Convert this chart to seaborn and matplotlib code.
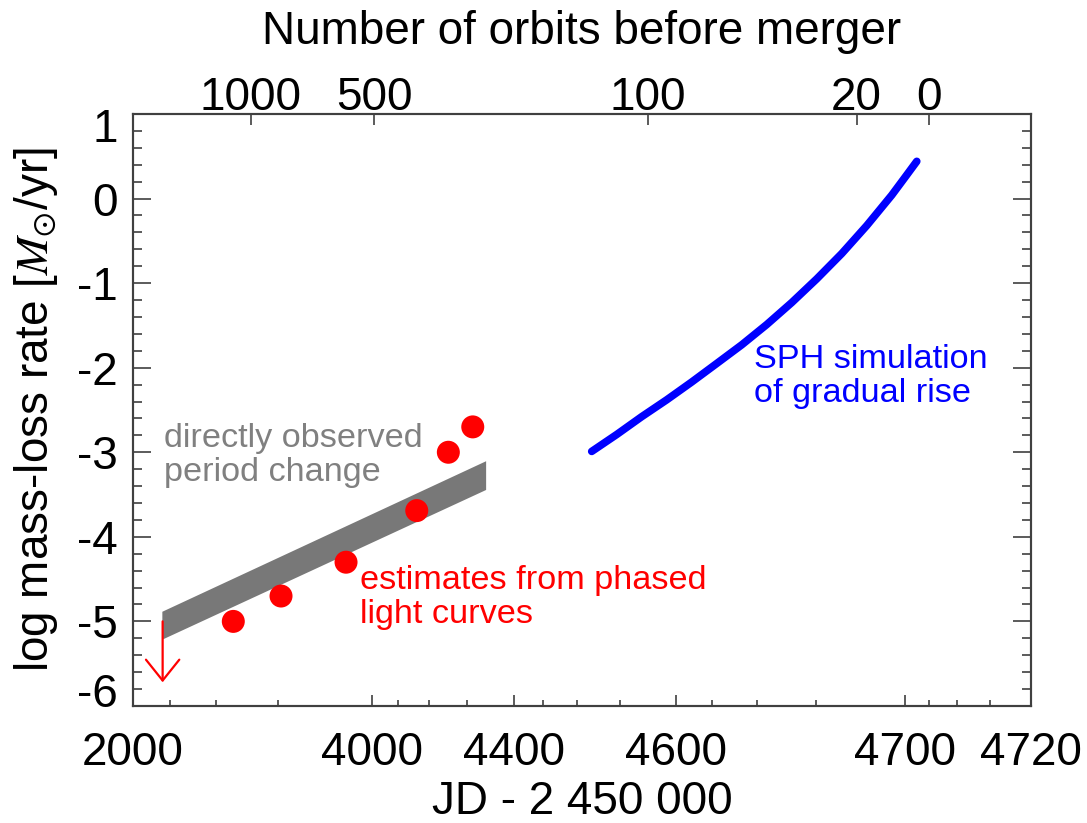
import numpy as np
import matplotlib
matplotlib.use("Agg")
import matplotlib.pyplot as plt
import seaborn as sns
from matplotlib.ticker import FixedLocator, NullFormatter, NullLocator, MultipleLocator
from matplotlib.transforms import ScaledTranslation

# bottom axis ticks (JD - 2450000)
jd_major = [2000, 4000, 4400, 4600, 4700, 4720]
jd_minor = [2500, 3000, 3500, 4100, 4200, 4300, 4450, 4500, 4550,
            4625, 4650, 4675, 4705, 4710, 4715]

# top axis: number of orbits before merger
orbit_labels = ["1000", "500", "100", "20", "0"]
orbit_jd = [3301, 4008, 4577, 4688, 4705]

# estimates from phased light curves
lc_jd = [3158, 3522, 3887, 4161, 4253, 4314]
lc_rate = [-5.00, -4.70, -4.30, -3.69, -3.00, -2.70]

# directly observed period change (band)
band_jd = [2400, 4343]
band_lo = [-5.21, -3.44]
band_hi = [-4.88, -3.10]

# upper limit arrow
limit_jd = 2410
limit_rate = [-5.0, -5.72]

# SPH simulation of gradual rise
sph_jd = [4518.0, 4546.4, 4571.1, 4592.8, 4611.6, 4628.1, 4642.4, 4654.9,
          4665.8, 4675.3, 4683.6, 4690.8, 4697.1, 4700.5, 4702.6]
sph_rate = [-2.99, -2.79, -2.58, -2.38, -2.17, -1.95, -1.73, -1.49,
            -1.23, -0.95, -0.65, -0.32, 0.04, 0.28, 0.44]

T_REF = 4740  # axis is -log(T_REF - JD)


def fwd(x):
    return -np.log10(np.clip(T_REF - np.asarray(x, dtype=float), 1e-3, None))


def inv(y):
    return T_REF - 10 ** (-np.asarray(y, dtype=float))


sns.set_style("ticks")
plt.rcParams["font.family"] = ["Liberation Sans", "DejaVu Sans"]
plt.rcParams["mathtext.fontset"] = "stix"
plt.rcParams["axes.edgecolor"] = "#404040"
plt.rcParams["axes.linewidth"] = 1.5
plt.rcParams["text.color"] = "black"
plt.rcParams["axes.labelcolor"] = "black"
plt.rcParams["xtick.labelcolor"] = "black"
plt.rcParams["ytick.labelcolor"] = "black"

fig = plt.figure(figsize=(10.87, 8.23), dpi=100)
ax = fig.add_axes([0.1224, 0.1422, 0.8261, 0.7193])
ax.set_xscale("function", functions=(fwd, inv))

# band
ax.fill_between(band_jd, band_lo, band_hi, color="#787878", lw=0, zorder=2)

# light-curve points
sns.scatterplot(x=lc_jd, y=lc_rate, ax=ax, color="red", s=274,
                edgecolor="none", zorder=4)

# SPH line
sns.lineplot(x=sph_jd, y=sph_rate, ax=ax, color="blue", lw=5.5,
             sort=False, estimator=None, zorder=3)

# upper limit arrow
ax.annotate("", xy=(limit_jd, limit_rate[1]), xytext=(limit_jd, limit_rate[0]),
            arrowprops=dict(arrowstyle="->,head_length=0.75,head_width=0.6",
                            color="red", lw=1.6, mutation_scale=20,
                            shrinkA=0, shrinkB=0), zorder=5)

# annotations
ax.text(2428, -3.04, "directly observed\nperiod change", color="#808080",
        fontsize=24.7, ha="left", va="center", linespacing=1.13)
ax.text(3950, -4.72, "estimates from phased\nlight curves", color="red",
        fontsize=24.7, ha="left", va="center", linespacing=1.13)
ax.text(4649, -2.10, "SPH simulation\nof gradual rise", color="blue",
        fontsize=24.7, ha="left", va="center", linespacing=1.13)

ax.set_xlim(2000, 4720)
ax.set_ylim(-6, 1)
ax.set_xticks(jd_major, [str(v) for v in jd_major])
ax.xaxis.set_minor_locator(FixedLocator(jd_minor))
ax.xaxis.set_minor_formatter(NullFormatter())
ax.set_yticks(range(-6, 2), [str(v) for v in range(-6, 2)])
ax.yaxis.set_minor_locator(MultipleLocator(0.2))

ax.tick_params(axis="x", which="major", direction="in", length=8, width=1.2,
               top=False, labelsize=33, pad=18, color="#404040")
ax.tick_params(axis="x", which="minor", direction="in", length=4, width=1.2,
               top=False, color="#404040")
ax.tick_params(axis="y", which="major", direction="in", length=12.7, width=1.2,
               right=True, labelsize=33, pad=10.8, color="#404040")
ax.tick_params(axis="y", which="minor", direction="in", length=6.5, width=1.2,
               right=True, color="#404040")

ax.set_xlabel("JD - 2 450 000", fontsize=33)
ax.xaxis.set_label_coords(0.5, -0.125)
ax.set_ylabel(r"log mass-loss rate [$M_{\odot}$/yr]", fontsize=33)
ax.yaxis.set_label_coords(-0.081, 0.5)

# top axis
ax2 = ax.twiny()
ax2.set_xscale("function", functions=(fwd, inv))
ax2.set_xlim(2000, 4720)
ax2.set_xticks(orbit_jd, orbit_labels)
ax2.xaxis.set_minor_locator(NullLocator())
ax2.tick_params(axis="x", which="major", direction="in", length=8, width=1.2,
                labelsize=33, pad=-4, color="#404040")
ax2.set_xlabel("Number of orbits before merger", fontsize=33)
ax2.xaxis.set_label_coords(0.5, 1.118)

# shift the end labels of the y axis inside the frame
yt = ax.yaxis.get_major_ticks()
yt[0].label1.set_transform(yt[0].label1.get_transform()
                           + ScaledTranslation(0, 0.16, fig.dpi_scale_trans))
yt[-1].label1.set_transform(yt[-1].label1.get_transform()
                            + ScaledTranslation(0, -0.11, fig.dpi_scale_trans))

fig.savefig("out.png", dpi=100)
